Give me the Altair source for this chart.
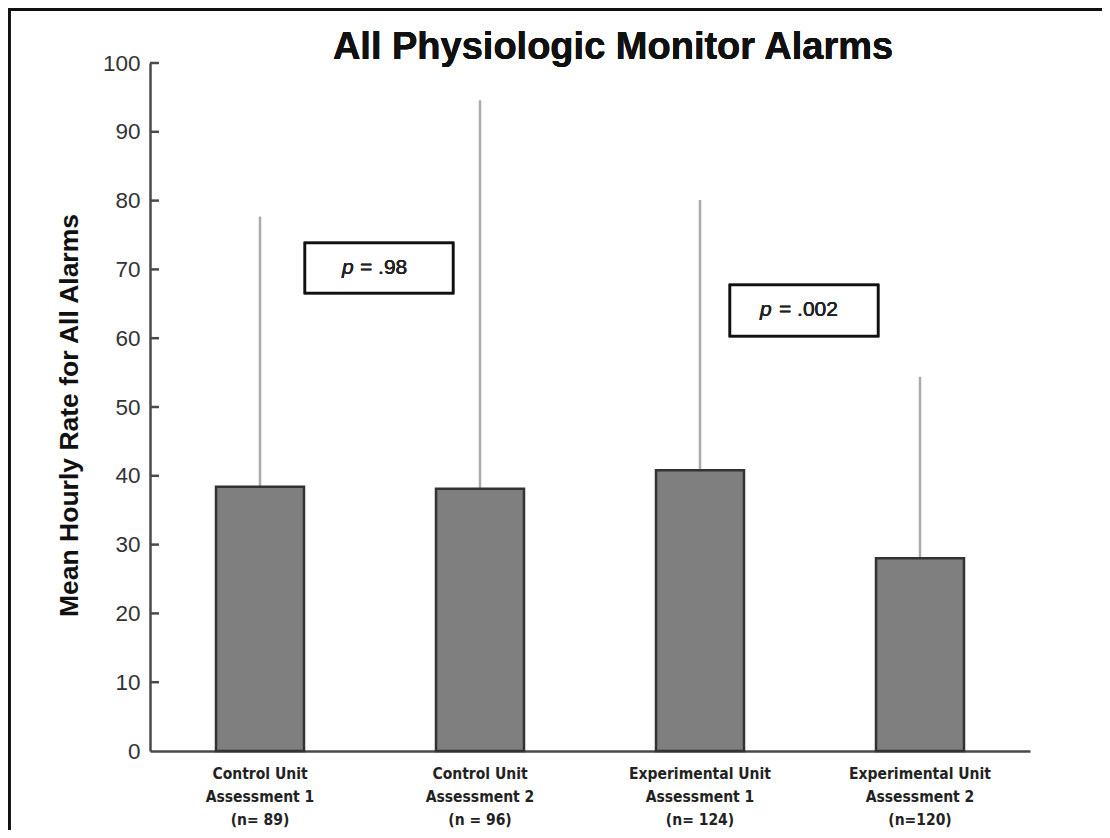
import altair as alt
import pandas as pd

units = ["Control Unit", "Control Unit", "Experimental Unit", "Experimental Unit"]
assessments = ["Assessment 1", "Assessment 2", "Assessment 1", "Assessment 2"]
ns = ["(n= 89)", "(n = 96)", "(n= 124)", "(n=120)"]
means = [38.4, 38.1, 40.8, 28.0]
uppers = [77.7, 94.6, 80.1, 54.4]
y_ticks = [10, 20, 30, 40, 50, 60, 70, 80, 90, 100]
title_text = "All Physiologic Monitor Alarms"

labels = [f"{u}|{a}|{n}" for u, a, n in zip(units, assessments, ns)]
df = pd.DataFrame({"group": labels, "mean": means, "upper": uppers})
ticks_df = pd.DataFrame({"v": y_ticks})

W, H = 880, 688

x_enc = alt.X(
    "group:N",
    sort=labels,
    scale=alt.Scale(paddingInner=0.6, paddingOuter=0.3),
    axis=alt.Axis(
        title=None,
        labelExpr="split(datum.label, '|')",
        labelAngle=0,
        labelAlign="center",
        labelFont="Liberation Sans Narrow, DejaVu Sans Condensed, Liberation Sans",
        labelFontSize=15.5,
        labelFontWeight="bold",
        labelColor="#222222",
        labelLineHeight=23,
        labelPadding=15,
        labelBaseline="top",
        ticks=False,
        domainColor="#4a4a4a",
        domainWidth=2.5,
        grid=False,
    ),
)
y_scale = alt.Scale(domain=[0, 100], nice=False)
y_enc = alt.Y(
    "mean:Q",
    scale=y_scale,
    axis=alt.Axis(
        title="Mean Hourly Rate for All Alarms",
        values=[0] + y_ticks,
        ticks=False,
        labelFont="Liberation Sans",
        labelFontSize=22.5,
        labelColor="#333333",
        labelPadding=10,
        domainColor="#4a4a4a",
        domainWidth=2.5,
        grid=False,
        titleFont="Liberation Sans",
        titleFontSize=26.5,
        titleFontWeight="bold",
        titleColor="#111111",
        titleAngle=270,
        titleX=-81,
        titleY=352,
        titleAlign="center",
        titleBaseline="middle",
    ),
)

err = alt.Chart(df).mark_rule(color="#ababab", strokeWidth=2.5).encode(
    x=alt.X("group:N", sort=labels), y=alt.Y("mean:Q", scale=y_scale), y2="upper:Q"
)
bars = alt.Chart(df).mark_bar(color="#7f7f7f", stroke="#333333", strokeWidth=2.5).encode(
    x=x_enc, y=y_enc
)
tick_marks = alt.Chart(ticks_df).mark_rule(color="#4a4a4a", strokeWidth=2.5).encode(
    y=alt.Y("v:Q", scale=y_scale), x=alt.value(0), x2=alt.value(9)
)

def pbox(x0, x1, y0, y1, px, tx, ty, txt):
    box = alt.Chart(df).mark_rect(fill="white", stroke="#111111", strokeWidth=2.5).encode(
        x=alt.value(x0), x2=alt.value(x1), y=alt.value(y0), y2=alt.value(y1)
    )
    p = alt.Chart(df).mark_text(
        text="p", font="Liberation Sans", fontSize=21, fontStyle="italic",
        align="left", baseline="middle", color="#222222"
    ).encode(x=alt.value(px), y=alt.value(ty))
    rest = alt.Chart(df).mark_text(
        text=txt, font="Liberation Sans", fontSize=21,
        align="left", baseline="middle", color="#222222"
    ).encode(x=alt.value(tx), y=alt.value(ty))
    return box + p + rest

box1 = pbox(155, 303, 180, 230, 192, 210, 205, "= .98")
box2 = pbox(580, 728, 222, 273, 610, 629, 247, "= .002")

title = alt.Chart(df).mark_text(
    text=title_text, font="Liberation Sans", fontSize=38, fontWeight="bold",
    align="center", baseline="alphabetic", color="#111111"
).encode(x=alt.value(463), y=alt.value(-4))

border_left = alt.Chart(df).mark_rule(color="#111111", strokeWidth=3).encode(
    x=alt.value(-141), y=alt.value(-55), y2=alt.value(767)
)
border_top = alt.Chart(df).mark_rule(color="#111111", strokeWidth=3).encode(
    x=alt.value(-142), x2=alt.value(952), y=alt.value(-53.5)
)

chart = alt.layer(
    err, bars, tick_marks, box1, box2, title, border_left, border_top
).properties(
    width=W,
    height=H,
    background="white",
    autosize=alt.AutoSizeParams(type="none"),
    padding={"left": 142, "top": 55, "right": 72, "bottom": 79},
).configure_view(strokeWidth=0, stroke=None)

chart.save("out.html", embed_options={"renderer": "svg", "actions": False})
